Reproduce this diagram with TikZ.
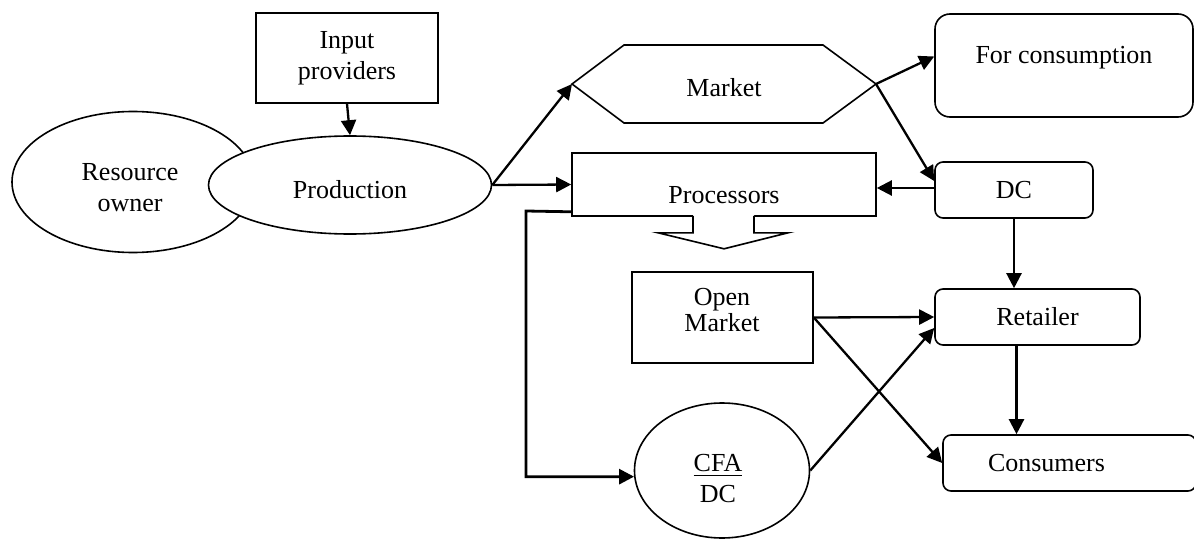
\documentclass[tikz,border=0pt]{standalone}
\usepackage{fontspec}
\setmainfont{Liberation Serif}
\usetikzlibrary{shapes.geometric,arrows.meta,calc}

\begin{document}
\begin{tikzpicture}[x=0.5pt, y=-0.5pt,
  every node/.style={font=\fontsize{13}{15.5}\selectfont},
  box/.style={draw, line width=0.8pt},
  roundbox/.style={box, rounded corners=4pt},
  oval/.style={draw, ellipse, line width=0.8pt, fill=white, inner sep=0pt},
  flow/.style={line width=1.15pt, -{Triangle[length=7.5pt,width=7.5pt]}}]

\useasboundingbox (0,0) rectangle (1194,540);

% producers
\node [box, align=center, minimum width=91pt, minimum height=45pt] (inp) at (347,58) {Input\\providers};
\node [oval, minimum width=121pt, minimum height=70.5pt] (res) at (133,182) {};
\node [align=center] (restxt) at (130,188) {Resource\\owner};
\node [oval, minimum width=141.5pt, minimum height=49pt, text height=16.5pt, text depth=2.8pt] (prod) at (350,185) {Production};

% market hexagon
\node [minimum width=152pt, minimum height=39pt, outer sep=0pt, text height=12.6pt, text depth=0pt] (mkt) at (724,84) {Market};
\draw [line width=0.8pt] (mkt.west) -- ([xshift=26pt]mkt.north west) -- ([xshift=-26.5pt]mkt.north east) -- (mkt.east)
  -- ([xshift=-26.5pt]mkt.south east) -- ([xshift=26pt]mkt.south west) -- cycle;

% processors and block arrow
\node [box, minimum width=152pt, minimum height=31.5pt, text height=19pt, text depth=0pt] (proc) at (724,184.5) {Processors};
\fill [white] ($(proc.south)+(-31,-2)$) -- ($(proc.south)+(-31,16)$) -- ($(proc.south)+(0,32)$)
  -- ($(proc.south)+(30,16)$) -- ($(proc.south)+(30,-2)$) -- cycle;
\draw [line width=0.8pt] ($(proc.south)+(-31,-1)$) -- ++(0,17) -- ++(-35,0) -- ($(proc.south)+(0,32)$)
  -- ($(proc.south)+(64,16)$) -- ++(-34,0) -- ++(0,-17);

\node [box, minimum width=90.5pt, minimum height=45.5pt] (open) at (722.5,317.5) {};
\node [align=center] (opentxt) at (722,310) {Open\\[-2.5pt]Market};
\node [oval, minimum width=87.5pt, minimum height=67.5pt] (cfa) at (722,470.5) {};
\node [align=center] (cfatxt) at (718,479) {\underline{CFA}\\DC};

% right column
\node [roundbox, rounded corners=7.5pt, minimum width=129pt, minimum height=51.5pt, text height=6pt, text depth=8pt] (cons) at (1064,65.5) {For consumption};
\node [roundbox, minimum width=79pt, minimum height=28pt] (dc) at (1014,190) {DC};
\node [roundbox, minimum width=102.5pt, minimum height=28pt] (ret) at (1037.5,317) {Retailer};
\node [roundbox, minimum width=126.5pt, minimum height=28pt, text width=81.5pt, inner xsep=22.5pt, align=left] (csm) at (1069.5,463) {Consumers};

% flows
\draw [flow] (inp.south) -- (prod.north);
\draw [flow] (prod.east) -- (mkt.west);
\draw [flow] (prod.east) -- (proc.west);
\draw [flow] (mkt.east) -- ([yshift=4.5pt]cons.west);
\draw [flow] (mkt.east) -- ([yshift=4.5pt]dc.west);
\draw [flow] ([yshift=1pt]dc.west) -- ([yshift=1pt]dc.west -| proc.east);
\draw [flow] (dc.south) -- (dc.south |- ret.north);
\draw [flow] ([xshift=-10.5pt]ret.south) -- ([xshift=-10.5pt]ret.south |- csm.north);
\draw [flow] (open.east) -- (ret.west);
\draw [flow] (open.east) -- (csm.west);
\draw [flow] (cfa.east) -- ([yshift=-5.5pt]ret.west);
\coordinate (bend) at (526,211);
\draw [flow, line width=1.4pt] ([yshift=2.5pt]proc.south west) -- (bend) |- (cfa.184);

\end{tikzpicture}
\end{document}
